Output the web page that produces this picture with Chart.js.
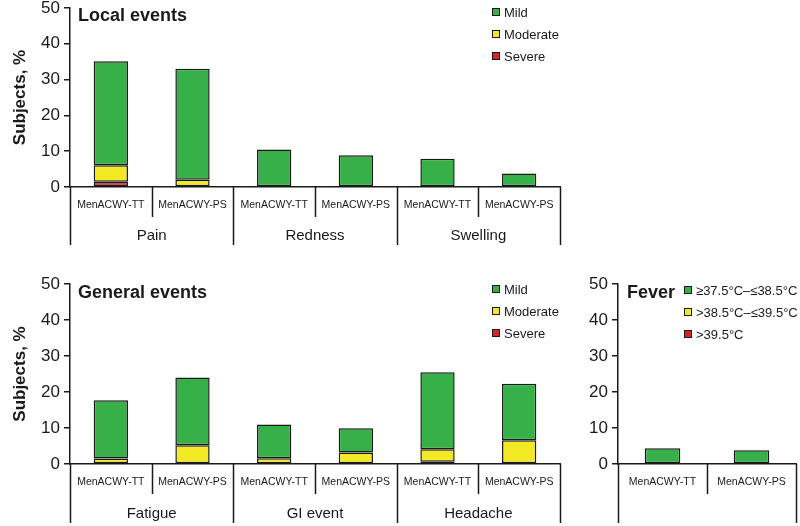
<!DOCTYPE html>
<html>
<head>
<meta charset="utf-8">
<script src="https://cdn.jsdelivr.net/npm/chart.js@4.4.0/dist/chart.umd.min.js"></script>
<style>
  html, body { margin: 0; padding: 0; background: #fff; }
  body { width: 800px; height: 526px; position: relative; overflow: hidden; }
  canvas { position: absolute; }
</style>
</head>
<body>
<canvas id="c1" width="800" height="250" style="left:0;top:0;"></canvas>
<canvas id="c2" width="600" height="276" style="left:0;top:250px;"></canvas>
<canvas id="c3" width="240" height="276" style="left:560px;top:250px;"></canvas>
<script>
// ---------- DATA ----------
const vaccines = ['MenACWY-TT', 'MenACWY-PS'];
const localGroups = ['Pain', 'Redness', 'Swelling'];
const localMild     = [29.0, 31.0, 10.5, 8.9, 7.9, 3.8];
const localModerate = [4.6, 2.0, 0, 0, 0, 0];
const localSevere   = [1.5, 0, 0, 0, 0, 0];

const generalGroups = ['Fatigue', 'GI event', 'Headache'];
const generalMild     = [16.2, 18.8, 9.4, 6.7, 21.4, 15.7];
const generalModerate = [1.5, 5.2, 1.6, 3.2, 3.5, 6.6];
const generalSevere   = [0, 0, 0, 0, 0.6, 0];

const feverMild     = [4.4, 3.8];
const feverModerate = [0, 0];
const feverSevere   = [0, 0];

const severityLabels = ['Mild', 'Moderate', 'Severe'];
const feverLabels = ['\u226537.5\u00b0C\u2013\u226438.5\u00b0C', '>38.5\u00b0C\u2013\u226439.5\u00b0C', '>39.5\u00b0C'];
const yTicks = [0, 10, 20, 30, 40, 50];
const yTitle = 'Subjects, %';

// ---------- STYLE ----------
const GREEN = '#37b04a', YELLOW = '#f3e824', RED = '#d3262b', INK = '#1a1a1a';
const FONT = "'Liberation Sans', Arial, Helvetica, sans-serif";
Chart.defaults.font.family = FONT;
Chart.defaults.color = INK;

function repeatLabels(groups) {
  const out = [];
  groups.forEach(() => vaccines.forEach(v => out.push(v)));
  return out;
}

const panelPlugin = {
  id: 'panelDecor',
  afterDraw(chart) {
    const o = chart.options.plugins.panelDecor;
    const ctx = chart.ctx;
    const ca = chart.chartArea;
    const x = chart.scales.x;
    const n = chart.data.labels.length;
    ctx.save();
    ctx.strokeStyle = INK;
    ctx.lineWidth = 1.5;
    for (let i = 0; i <= n; i++) {
      let px;
      if (i === 0) px = ca.left;
      else if (i === n) px = ca.right;
      else px = (x.getPixelForValue(i - 1) + x.getPixelForValue(i)) / 2;
      const isGroup = (i % 2 === 0);
      ctx.beginPath();
      ctx.moveTo(Math.round(px) + 0.5, ca.bottom);
      ctx.lineTo(Math.round(px) + 0.5, isGroup ? o.groupBottom : o.subBottom);
      ctx.stroke();
    }
    ctx.fillStyle = INK;
    ctx.textAlign = 'center';
    ctx.textBaseline = 'middle';
    ctx.font = '15px ' + FONT;
    (o.groups || []).forEach((g, gi) => {
      const a = gi === 0 ? ca.left : (x.getPixelForValue(gi * 2 - 1) + x.getPixelForValue(gi * 2)) / 2;
      const bIdx = gi * 2 + 2;
      const b = bIdx >= n ? ca.right : (x.getPixelForValue(bIdx - 1) + x.getPixelForValue(bIdx)) / 2;
      ctx.fillText(g, (a + b) / 2, o.groupLabelY);
    });
    ctx.textAlign = 'left';
    ctx.font = 'bold 18px ' + FONT;
    ctx.fillText(o.title, o.titleX, o.titleY);
    ctx.font = '13px ' + FONT;
    const colors = [GREEN, YELLOW, RED];
    o.legend.forEach((t, i) => {
      const cy = o.legendY + i * 22;
      ctx.fillStyle = colors[i];
      ctx.fillRect(o.legendX, cy - 4, 8, 8);
      ctx.strokeStyle = INK;
      ctx.lineWidth = 1;
      ctx.strokeRect(o.legendX + 0.5, cy - 3.5, 7, 7);
      ctx.fillStyle = INK;
      ctx.fillText(t, o.legendX + 12, cy + 1);
    });
    if (o.yTitle) {
      ctx.save();
      ctx.translate(20, (ca.top + ca.bottom) / 2);
      ctx.rotate(-Math.PI / 2);
      ctx.textAlign = 'center';
      ctx.font = 'bold 17px ' + FONT;
      ctx.fillText(o.yTitle, 0, 0);
      ctx.restore();
    }
    ctx.restore();
  }
};

function makePanel(id, labels, mild, moderate, severe, cfg) {
  const ds = (label, data, color) => ({
    label, data, backgroundColor: color, borderColor: INK,
    borderWidth: c => (c.raw ? 1.5 : 0),
    borderSkipped: false, categoryPercentage: 1, barPercentage: cfg.barPct
  });
  return new Chart(document.getElementById(id), {
    type: 'bar',
    data: {
      labels,
      datasets: [
        ds(cfg.legend[2], severe, RED),
        ds(cfg.legend[1], moderate, YELLOW),
        ds(cfg.legend[0], mild, GREEN)
      ]
    },
    plugins: [panelPlugin],
    options: {
      responsive: false,
      animation: false,
      devicePixelRatio: 1,
      layout: { padding: { top: cfg.padTop, right: cfg.padRight, left: 0, bottom: 0 } },
      plugins: {
        legend: { display: false },
        tooltip: { enabled: false },
        panelDecor: cfg
      },
      scales: {
        x: {
          stacked: true,
          grid: { display: false },
          border: { display: true, color: INK, width: 1.5 },
          ticks: { font: { size: 10.5 }, color: INK, padding: 4, maxRotation: 0, autoSkip: false },
          afterFit(s) { s.height = cfg.xHeight; }
        },
        y: {
          stacked: true,
          min: yTicks[0], max: yTicks[yTicks.length - 1],
          afterBuildTicks(s) { s.ticks = yTicks.map(v => ({ value: v })); },
          grid: { drawOnChartArea: false, drawTicks: true, tickLength: 6, color: INK, lineWidth: 1.5 },
          border: { display: true, color: INK, width: 1.5 },
          ticks: { font: { size: 17 }, color: INK, padding: 4 },
          afterFit(s) { s.width = cfg.yWidth; s.paddingTop = 0; s.paddingBottom = 0; }
        }
      }
    }
  });
}

makePanel('c1', repeatLabels(localGroups), localMild, localModerate, localSevere, {
  groups: localGroups, title: 'Local events', titleX: 78, titleY: 16,
  legend: severityLabels, legendX: 492, legendY: 12,
  yTitle: yTitle, barPct: 0.42,
  padTop: 8, padRight: 240, xHeight: 63, yWidth: 70,
  subBottom: 217, groupBottom: 245, groupLabelY: 236
});

makePanel('c2', repeatLabels(generalGroups), generalMild, generalModerate, generalSevere, {
  groups: generalGroups, title: 'General events', titleX: 78, titleY: 43,
  legend: severityLabels, legendX: 492, legendY: 39,
  yTitle: yTitle, barPct: 0.42,
  padTop: 34, padRight: 40, xHeight: 62, yWidth: 70,
  subBottom: 244, groupBottom: 273, groupLabelY: 264
});

makePanel('c3', vaccines.slice(), feverMild, feverModerate, feverSevere, {
  groups: [], title: 'Fever', titleX: 67, titleY: 43,
  legend: feverLabels, legendX: 124, legendY: 40,
  yTitle: null, barPct: 0.40,
  padTop: 34, padRight: 4, xHeight: 62, yWidth: 58,
  subBottom: 244, groupBottom: 273, groupLabelY: 264
});
</script>
</body>
</html>
